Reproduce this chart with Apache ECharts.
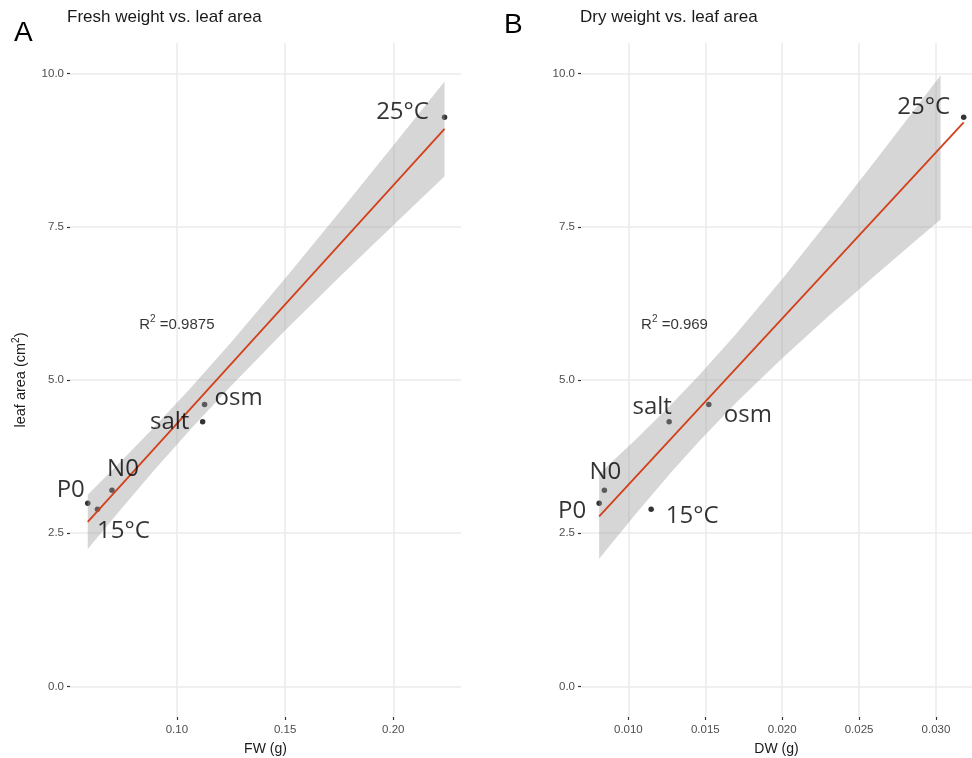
<!DOCTYPE html>
<html><head><meta charset="utf-8">
<script src="https://cdn.jsdelivr.net/npm/echarts@6/dist/echarts.min.js"></script>
<style>html,body{margin:0;padding:0;background:#fff}#c{width:972px;height:758px}</style>
</head><body><div id="c"></div>
<script>
// ---- data ----
const treatments  = ['P0', '15°C', 'N0', 'salt', 'osm', '25°C'];
const leafArea    = [2.99, 2.89, 3.20, 4.32, 4.60, 9.29];
const freshWeight = [0.0588, 0.0633, 0.0700, 0.1119, 0.1128, 0.2237];
const dryWeight   = [0.0081, 0.01148, 0.00844, 0.01265, 0.01523, 0.0318];

// fitted regression lines (end points)
const fwFitX = [0.0588, 0.2237];
const fwFitY = [2.684, 9.098];
const dwFitX = [0.0081, 0.0318];
const dwFitY = [2.776, 9.203];

// 95% confidence band
const fwBandX    = [0.0588, 0.075, 0.09, 0.10675, 0.125, 0.15, 0.175, 0.2, 0.2237];
const fwBandLow  = [2.242, 2.927, 3.546, 4.212, 4.904, 5.807, 6.675, 7.526, 8.324];
const fwBandHigh = [3.126, 3.701, 4.250, 4.887, 5.614, 6.656, 7.732, 8.826, 9.872];
const dwBandX    = [0.0081, 0.0105, 0.0128, 0.0146, 0.017, 0.020, 0.023, 0.026, 0.0285, 0.0303];
const dwBandLow  = [2.082, 2.821, 3.497, 4.000, 4.627, 5.356, 6.040, 6.699, 7.236, 7.618];
const dwBandHigh = [3.470, 4.033, 4.603, 5.078, 5.751, 6.650, 7.594, 8.562, 9.380, 9.974];

// R² annotations
const fwR2 = '0.9875';
const dwR2 = '0.969';
const fwR2At = [0.10, 5.92];
const dwR2At = [0.013, 5.92];

// tick labels
const fwTicks = [0.10, 0.15, 0.20];
const dwTicks = [0.010, 0.015, 0.020, 0.025, 0.030];
const laTicks = [0.0, 2.5, 5.0, 7.5, 10.0];

// ---- styling (label offsets in px) ----
const fwLabelOffset = [[-17,-13],[26,22],[11,-21],[-33,0],[34,-6],[-42,-5]];
const dwLabelOffset = [[-27,8],[41,7],[1,-18],[-17,-15],[39,11],[-40,-10]];

const chart = echarts.init(document.getElementById('c'), null, {renderer: 'canvas'});
const TXT = '"Liberation Sans", Arial, sans-serif';
const LBL = '"Open Sans", "Noto Sans", sans-serif';
const gridLine = {show: true, lineStyle: {color: '#ebebeb', width: 1.5}};

function xAxis(gi, ticks, dec, min, max, name) {
  return {
    type: 'value', gridIndex: gi, min: min, max: max, position: 'bottom',
    name: name, nameLocation: 'middle', nameGap: 25,
    nameTextStyle: {fontFamily: TXT, fontSize: 14, color: '#1a1a1a'},
    axisLine: {show: false, onZero: false},
    axisTick: {show: true, length: 3, customValues: ticks, lineStyle: {color: '#333', width: 1.2}},
    axisLabel: {customValues: ticks, margin: 7, fontFamily: TXT, fontSize: 11.5, color: '#4d4d4d',
      formatter: v => v.toFixed(dec)},
    splitLine: gridLine
  };
}
function yAxis(gi, withName) {
  const a = {
    type: 'value', gridIndex: gi, min: -0.5, max: 10.5, position: 'left',
    axisLine: {show: false, onZero: false},
    axisTick: {show: true, length: 3, customValues: laTicks, lineStyle: {color: '#333', width: 1.2}},
    axisLabel: {customValues: laTicks, margin: 6, fontFamily: TXT, fontSize: 11.5, color: '#4d4d4d',
      formatter: v => v.toFixed(1)},
    splitLine: gridLine
  };
  if (withName) {
    a.name = '{a|leaf area (cm}{s|2}{a|)}';
    a.nameLocation = 'middle';
    a.nameGap = 42;
    a.nameTextStyle = {rich: {
      a: {fontFamily: TXT, fontSize: 14.5, color: '#1a1a1a', lineHeight: 17, verticalAlign: 'bottom'},
      s: {fontFamily: TXT, fontSize: 10, color: '#1a1a1a', lineHeight: 10, verticalAlign: 'top'}
    }};
  }
  return a;
}
function band(gi, bx, lo, hi) {
  return {
    type: 'custom', xAxisIndex: gi, yAxisIndex: gi, z: 3, silent: true, clip: true,
    data: [[bx[0], lo[0]]],
    renderItem: function (params, api) {
      const pts = [];
      for (let i = 0; i < bx.length; i++) pts.push(api.coord([bx[i], hi[i]]));
      for (let i = bx.length - 1; i >= 0; i--) pts.push(api.coord([bx[i], lo[i]]));
      return {type: 'polygon', shape: {points: pts}, style: {fill: 'rgba(153,153,153,0.4)'}};
    }
  };
}
function fit(gi, fx, fy) {
  return {
    type: 'line', xAxisIndex: gi, yAxisIndex: gi, z: 4, silent: true,
    showSymbol: false, symbol: 'none',
    data: fx.map((x, i) => [x, fy[i]]),
    lineStyle: {color: '#D2401B', width: 1.8}
  };
}
function points(gi, xs) {
  return {
    type: 'scatter', xAxisIndex: gi, yAxisIndex: gi, z: 2, silent: true,
    symbolSize: 5.5, itemStyle: {color: '#000'},
    data: xs.map((x, i) => [x, leafArea[i]])
  };
}
function labels(gi, xs, offs) {
  return {
    type: 'scatter', xAxisIndex: gi, yAxisIndex: gi, z: 6, silent: true,
    symbolSize: 0,
    data: xs.map((x, i) => ({
      name: treatments[i], value: [x, leafArea[i]],
      label: {offset: offs[i]}
    })),
    label: {show: true, position: 'inside', formatter: p => p.name,
      fontFamily: LBL, fontSize: 24, color: '#000'}
  };
}
function r2(gi, at, txt) {
  return {
    type: 'scatter', xAxisIndex: gi, yAxisIndex: gi, z: 6, silent: true,
    symbolSize: 0, data: [at],
    label: {show: true, position: 'inside',
      formatter: '{r|R}{s|2}{r| =' + txt + '}',
      rich: {
        r: {fontFamily: TXT, fontSize: 15, color: '#000', lineHeight: 18, verticalAlign: 'bottom'},
        s: {fontFamily: TXT, fontSize: 10, color: '#000', lineHeight: 10, verticalAlign: 'top'}
      }}
  };
}

chart.setOption({
  animation: false,
  backgroundColor: '#fff',
  title: [
    {text: 'A', left: 14, top: 19, padding: 0, textStyle: {fontFamily: TXT, fontSize: 28, fontWeight: 'normal', color: '#000'}},
    {text: 'Fresh weight vs. leaf area', left: 67, top: 9, padding: 0, textStyle: {fontFamily: TXT, fontSize: 17, fontWeight: 'normal', color: '#1a1a1a'}},
    {text: 'B', left: 504, top: 11, padding: 0, textStyle: {fontFamily: TXT, fontSize: 28, fontWeight: 'normal', color: '#000'}},
    {text: 'Dry weight vs. leaf area', left: 580, top: 9, padding: 0, textStyle: {fontFamily: TXT, fontSize: 17, fontWeight: 'normal', color: '#1a1a1a'}}
  ],
  grid: [
    {left: 70, top: 43, width: 391, height: 674, containLabel: false, outerBoundsMode: 'none'},
    {left: 581, top: 43, width: 391, height: 674, containLabel: false, outerBoundsMode: 'none'}
  ],
  xAxis: [
    xAxis(0, fwTicks, 2, 0.0506, 0.2313, 'FW (g)'),
    xAxis(1, dwTicks, 3, 0.00692, 0.03234, 'DW (g)')
  ],
  yAxis: [yAxis(0, true), yAxis(1, false)],
  series: [
    points(0, freshWeight), band(0, fwBandX, fwBandLow, fwBandHigh), fit(0, fwFitX, fwFitY),
    labels(0, freshWeight, fwLabelOffset), r2(0, fwR2At, fwR2),
    points(1, dryWeight), band(1, dwBandX, dwBandLow, dwBandHigh), fit(1, dwFitX, dwFitY),
    labels(1, dryWeight, dwLabelOffset), r2(1, dwR2At, dwR2)
  ]
});
</script>
</body></html>
